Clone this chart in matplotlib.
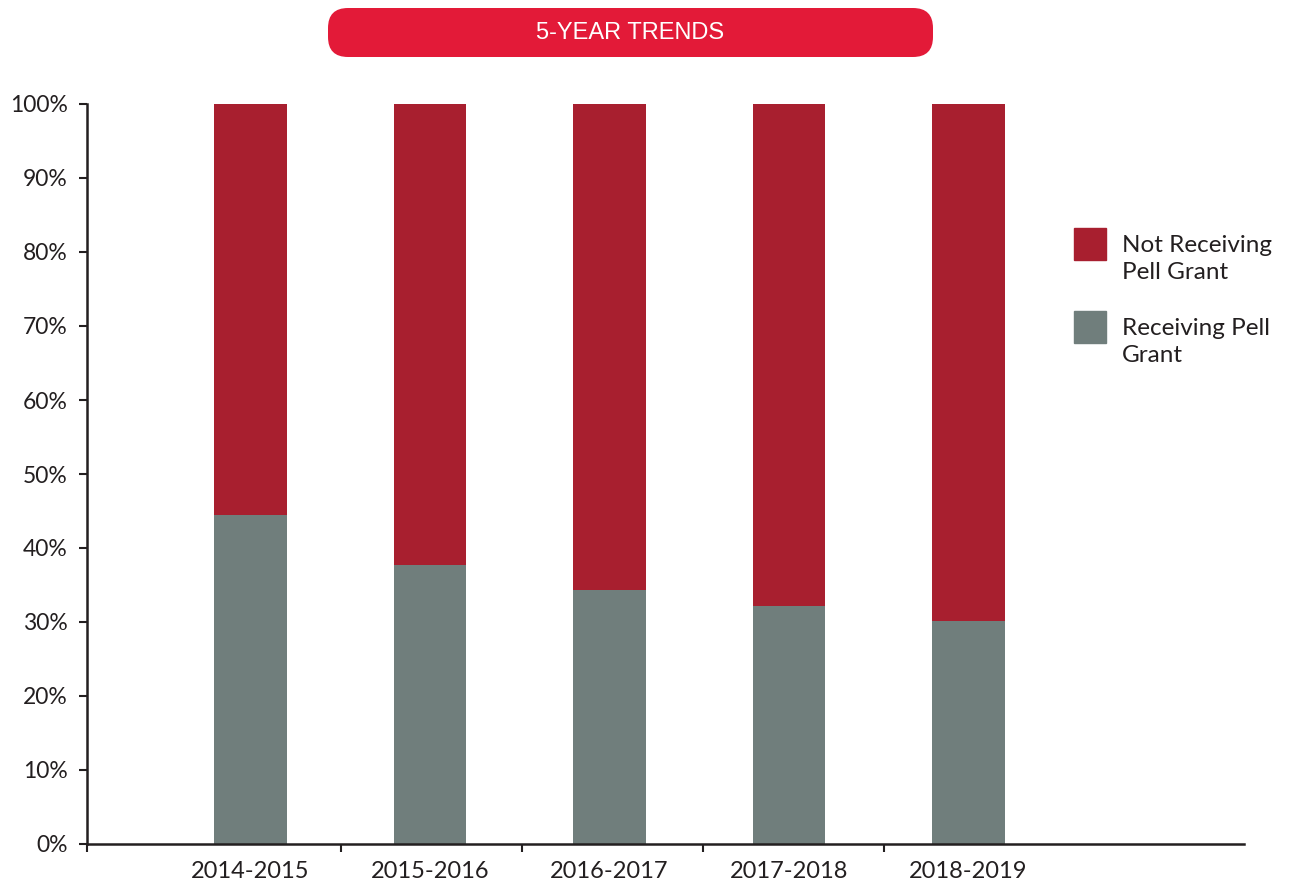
import matplotlib
matplotlib.use("Agg")
import matplotlib.pyplot as plt
from matplotlib.patches import Rectangle, FancyBboxPatch

red = "#A81F2F"
grey = "#707E7C"
banner = "#E31A38"
ink = "#231F20"

years = ["2014-2015", "2015-2016", "2016-2017", "2017-2018", "2018-2019"]
receiving = [44.5, 37.7, 34.3, 32.1, 30.1]
not_receiving = [55.5, 62.3, 65.7, 67.9, 69.9]
y_ticks = [0, 10, 20, 30, 40, 50, 60, 70, 80, 90, 100]
legend_labels = ["Not Receiving\nPell Grant", "Receiving Pell\nGrant"]

plt.rcParams['font.family'] = ['Lato', 'DejaVu Sans']

W, H = 1289, 890
fig = plt.figure(figsize=(W / 100, H / 100), dpi=100)
ax = fig.add_axes([87 / W, 1 - 844 / H, (1244 - 87) / W, (844 - 104) / H])

x = list(range(len(years)))
ax.bar(x, receiving, width=0.405, color=grey, zorder=2)
ax.bar(x, not_receiving, width=0.405, bottom=receiving, color=red, zorder=2)

ax.set_xlim(-0.911, 5.535)
ax.set_ylim(0, 100)

ax.set_yticks(y_ticks)
ax.set_yticklabels(["%d%%" % v for v in y_ticks], fontsize=16.5, color=ink)

# boundaries get tick marks, labels sit under the bars
ax.set_xticks([-0.911, 0.504, 1.513, 2.521, 3.53])
ax.set_xticklabels([])
ax.set_xticks(x, minor=True)
ax.set_xticklabels(years, minor=True, fontsize=17, color=ink)
ax.tick_params(axis="x", which="minor", length=0, pad=12)
ax.tick_params(axis="both", which="major", length=6, width=1.5, color=ink, direction="out")
ax.tick_params(axis="y", pad=8)

for s in ["top", "right"]:
    ax.spines[s].set_visible(False)
for s in ["left", "bottom"]:
    ax.spines[s].set_linewidth(1.8)
    ax.spines[s].set_color(ink)

# legend drawn by hand
for lab, col, top in zip(legend_labels, [red, grey], [228, 311]):
    fig.add_artist(Rectangle((1074 / W, 1 - (top + 32) / H), 32 / W, 32 / H,
                             transform=fig.transFigure, color=col))
    fig.text(1122 / W, 1 - (top + 31) / H, lab, fontsize=17.5, color=ink,
             va="center", ha="left", linespacing=1.3)

# title banner
fig.add_artist(FancyBboxPatch((3.28, 8.33), 6.05, 0.49,
                              boxstyle="round,pad=0,rounding_size=0.2",
                              transform=fig.dpi_scale_trans, color=banner, lw=0))
fig.text(6.305 / 12.89, 8.575 / 8.90, "5-YEAR TRENDS", fontsize=17, color="white",
         ha="center", va="center", family="Liberation Sans")

fig.savefig("out.png", dpi=100)
